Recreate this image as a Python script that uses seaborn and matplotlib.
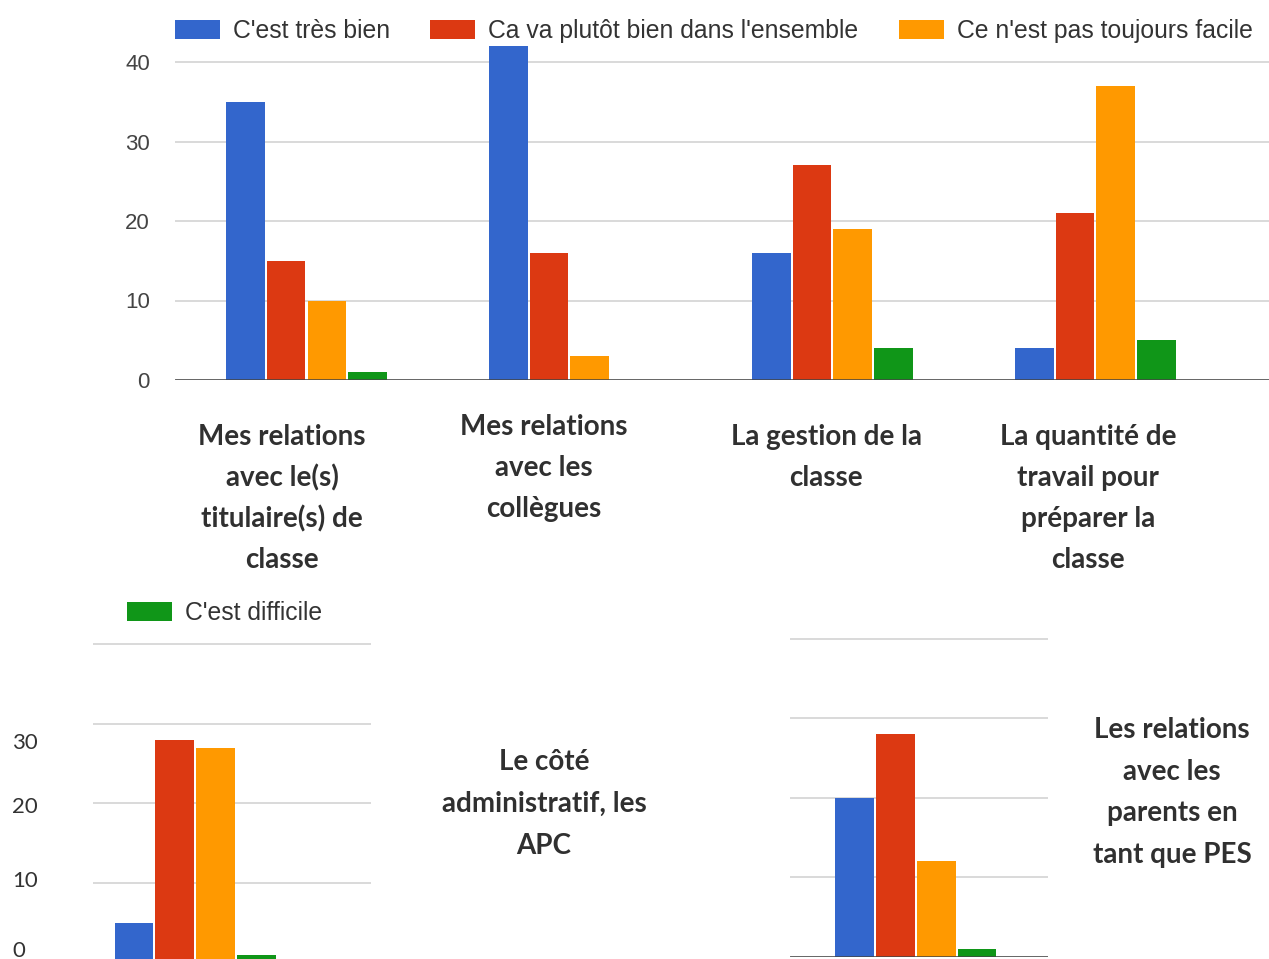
import pandas as pd
import matplotlib.pyplot as plt
from matplotlib.patches import Patch
import seaborn as sns

# Series (legend) and Google-chart colours
series = ["C'est très bien", "Ca va plutôt bien dans l'ensemble",
          "Ce n'est pas toujours facile", "C'est difficile"]
colors = ['#3366CC', '#DC3912', '#FF9900', '#109618']

# Top chart: four questions
top_cats = ['titulaires', 'collegues', 'gestion', 'travail']
top_labels = [["Mes relations", "avec le(s)", "titulaire(s) de", "classe"],
              ["Mes relations", "avec les", "collègues"],
              ["La gestion de la", "classe"],
              ["La quantité de", "travail pour", "préparer la", "classe"]]
tres_bien = [35, 42, 16, 4]
plutot_bien = [15, 16, 27, 21]
pas_facile = [10, 3, 19, 37]
difficile = [1, 0, 4, 5]

# Bottom charts: one question each
admin_label = ["Le côté", "administratif, les", "APC"]
admin_values = [5, 28, 27, 1]
parents_label = ["Les relations", "avec les", "parents en", "tant que PES"]
parents_values = [20, 28, 12, 1]

top_ticks = [0, 10, 20, 30, 40]
left_tick_labels = ['30', '20', '10', '0']

W, H = 1269, 959

sns.set_style('white')
plt.rcParams['font.family'] = ['Liberation Sans', 'DejaVu Sans']


def box(x0, y_top, x1, y_bot):
    return [x0 / W, 1 - y_bot / H, (x1 - x0) / W, (y_bot - y_top) / H]


def style(ax, ymax):
    ax.set_ylim(0, ymax)
    ax.set_yticks(top_ticks)
    ax.yaxis.grid(True, color='#d9d9d9', lw=1.4)
    ax.set_axisbelow(True)
    for s in ax.spines.values():
        s.set_visible(False)
    ax.axhline(0, color='#444444', lw=1.8, zorder=5)
    ax.set_xticks([])
    ax.set_xlabel('')
    ax.set_ylabel('')
    ax.tick_params(length=0)


def draw(ax, df, order):
    sns.barplot(data=df, x='cat', y='val', hue='serie', order=order,
                hue_order=series, palette=colors, width=0.62, gap=0.05,
                saturation=1, linewidth=0, errorbar=None, legend=False, ax=ax)


df_top = pd.DataFrame({
    'cat': top_cats * 4,
    'serie': [s for s in series for _ in top_cats],
    'val': tres_bien + plutot_bien + pas_facile + difficile,
})
df_admin = pd.DataFrame({'cat': ['admin'] * 4, 'serie': series, 'val': admin_values})
df_parents = pd.DataFrame({'cat': ['parents'] * 4, 'serie': series, 'val': parents_values})

fig = plt.figure(figsize=(W / 100, H / 100), dpi=100)

# top chart
ax1 = fig.add_axes(box(175, 380 - 42.2 * 7.95, W, 380))
draw(ax1, df_top, top_cats)
style(ax1, 42.2)
ax1.set_xlim(-0.5, 3.66)
ax1.tick_params(axis='y', labelsize=16, labelcolor='#444444', pad=18)

# bottom left chart
ax2 = fig.add_axes(box(93, 962.5 - 40.3 * 7.96, 371, 962.5))
draw(ax2, df_admin, ['admin'])
style(ax2, 40.3)
ax2.set_xlim(-0.388, 0.669)
ax2.tick_params(labelleft=False)

# bottom right chart
ax3 = fig.add_axes(box(790, 957 - 40.3 * 7.96, 1048, 957))
draw(ax3, df_parents, ['parents'])
style(ax3, 40.3)
ax3.set_xlim(-0.479, 0.502)
ax3.tick_params(labelleft=False)

# legends
handles = [Patch(facecolor=c, edgecolor='none') for c in colors]
leg_kw = dict(frameon=False, fontsize=17.8, handlelength=1.82, handleheight=0.81,
              handletextpad=0.53, columnspacing=1.62, borderpad=0,
              borderaxespad=0, labelcolor='#333333')
fig.legend(handles[:3], series[:3], loc='center left', ncol=3,
           bbox_to_anchor=(175 / W, 1 - 31 / H), **leg_kw)
fig.legend(handles[3:], series[3:], loc='center left',
           bbox_to_anchor=(127 / W, 1 - 613 / H), **leg_kw)

# category labels (one text per line)
lab_kw = dict(ha='center', va='baseline', fontsize=20, fontweight='bold',
              color='#303030', family=['Lato', 'DejaVu Sans'])


def put_label(lines, x, y0, step=41):
    for i, line in enumerate(lines):
        fig.text(x / W, 1 - (y0 + i * step) / H, line, **lab_kw)


put_label(top_labels[0], 282, 445)
put_label(top_labels[1], 544, 435)
put_label(top_labels[2], 826, 445)
put_label(top_labels[3], 1088, 445)
put_label(admin_label, 544, 770, 42)
put_label(parents_label, 1172, 738, 41.5)

# y labels of the bottom-left chart
for lab, yb in zip(left_tick_labels, [749, 813, 887, 957]):
    fig.text(12 / W, 1 - yb / H, lab, ha='left', va='baseline', fontsize=16,
             color='#333333', family=['Lato', 'DejaVu Sans'])

plt.savefig('out.png', dpi=100)
